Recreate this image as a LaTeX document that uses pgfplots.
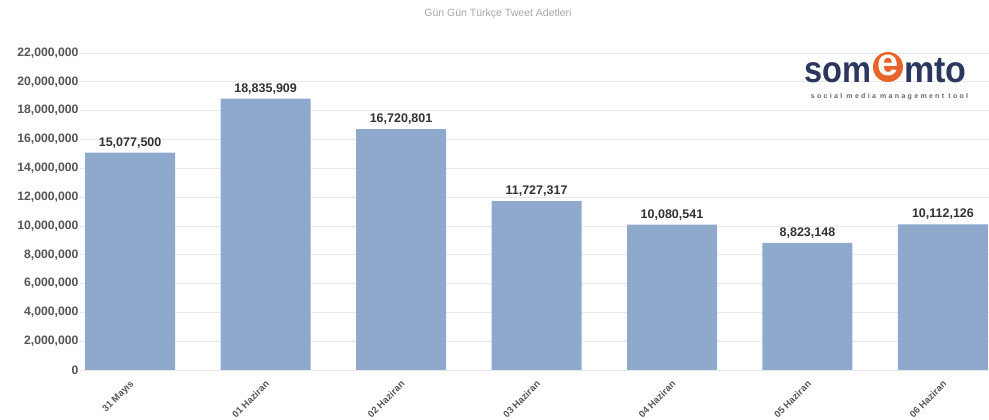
\documentclass[border=0pt]{standalone}
\usepackage{fontspec}
\setmainfont{Liberation Sans}
\newfontfamily\logosub[LetterSpace=33]{Liberation Sans}
\usepackage{graphicx}
\usepackage{pgfplots}
\usepackage{pgfplotstable}
\pgfplotsset{compat=1.18}
\definecolor{barblue}{RGB}{142,169,204}
\definecolor{gridgray}{RGB}{232,232,232}
\definecolor{ticktext}{RGB}{85,85,85}
\definecolor{valtext}{RGB}{50,50,50}
\definecolor{logonavy}{RGB}{43,55,95}
\definecolor{logoorange}{RGB}{232,100,42}
\pgfplotstableread{
x y label
0 15077500 15,077,500
1 18835909 18,835,909
2 16720801 16,720,801
3 11727317 11,727,317
4 10080541 10,080,541
5 8823148 8,823,148
6 10112126 10,112,126
}\tweets
\begin{document}
\begin{tikzpicture}[x=1pt,y=1pt]
\useasboundingbox (0,0) rectangle (989,420);
\node[text=gray!70, font=\fontsize{10.5}{12}\selectfont] at (498,406) {Gün Gün Türkçe Tweet Adetleri};
\begin{axis}[
  at={(80pt,50pt)}, anchor=south west,
  scale only axis, width=909pt, height=317pt,
  xmin=-0.37, xmax=6.34, ymin=0, ymax=22000000,
  ytick distance=2000000,
  scaled y ticks=false,
  xtick=data,
  xticklabels={31 Mayıs,01 Haziran,02 Haziran,03 Haziran,04 Haziran,05 Haziran,06 Haziran},
  x tick label style={rotate=45, anchor=north east, font=\bfseries\fontsize{9.5}{11}\selectfont, text=ticktext, yshift=-3pt, xshift=-4pt},
  y tick label style={font=\bfseries\fontsize{12.2}{14}\selectfont, text=ticktext, xshift=2pt},
  /pgf/number format/assume math mode=true,
  yticklabel={\pgfmathprintnumber[fixed,precision=0,1000 sep={,}]{\tick}},
  major tick length=0pt,
  axis line style={draw=none},
  ymajorgrids, grid style={gridgray, line width=0.8pt},
  clip=false,
]
\addplot[ybar, bar width=90pt, fill=barblue, draw=none,
  point meta=explicit symbolic,
  nodes near coords,
  nodes near coords style={font=\bfseries\fontsize{12.5}{14}\selectfont, text=valtext, anchor=south, yshift=1pt}]
  table[x=x, y=y, meta=label] {\tweets};
\end{axis}
% logo
\fill[logoorange] (888,353) circle (15);
\node[anchor=center, inner sep=0, text=white] at (888,355) {\fontsize{38}{38}\selectfont\bfseries e};
\node[anchor=base east, inner sep=0, text=logonavy] at (872,337) {\scalebox{0.88}[1]{\fontsize{37}{37}\selectfont\bfseries som}};
\node[anchor=base west, inner sep=0, text=logonavy] at (904,337) {\scalebox{0.92}[1]{\fontsize{37}{37}\selectfont\bfseries mto}};
\node[anchor=center, inner sep=0, text=gray!80!black] at (889.5,323) {\logosub\fontsize{7}{8}\selectfont\bfseries social media management tool};
\end{tikzpicture}
\end{document}
